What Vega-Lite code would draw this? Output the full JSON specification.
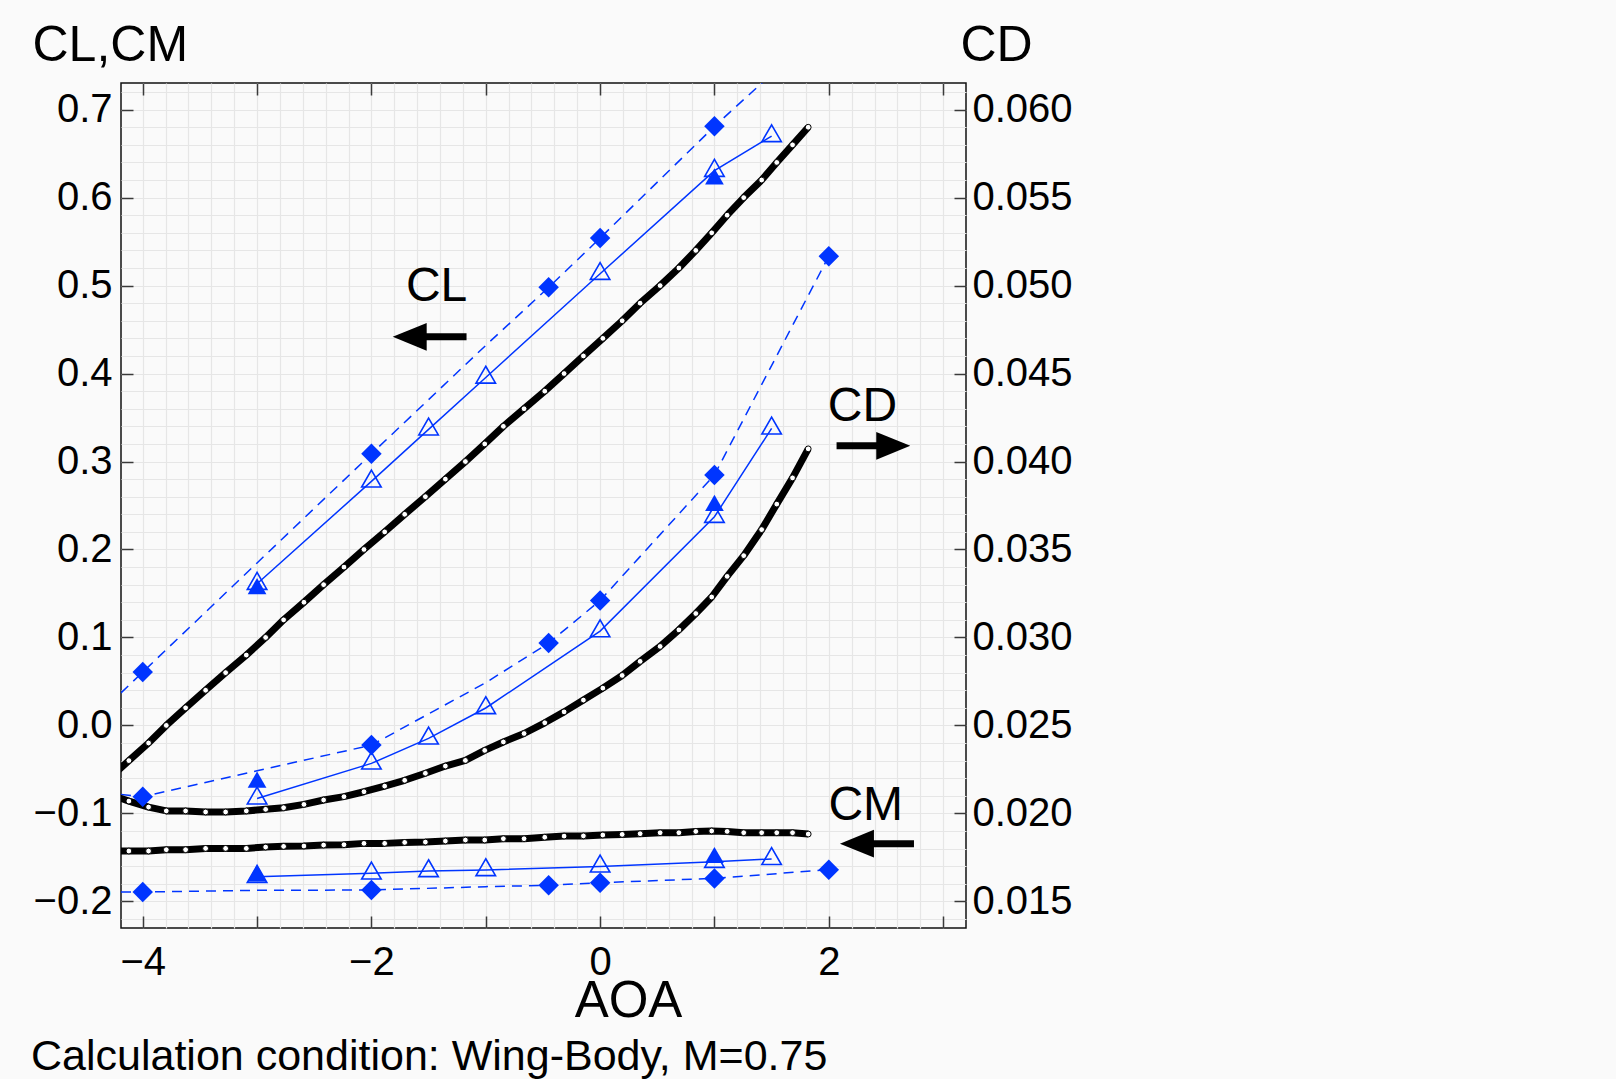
{
  "$schema": "https://vega.github.io/schema/vega-lite/v6.json",
  "width": 845,
  "height": 845,
  "autosize": {"type": "none"},
  "padding": {"left": 121, "top": 83, "right": 650, "bottom": 151},
  "background": "#fafafa",
  "title": {
    "text": "Calculation condition: Wing-Body, M=0.75",
    "orient": "bottom",
    "anchor": "start",
    "frame": "group",
    "dx": -90,
    "offset": 10,
    "fontSize": 43,
    "fontWeight": "normal",
    "font": "Liberation Sans",
    "color": "#000000"
  },
  "config": {
    "view": {"stroke": "#111111", "strokeWidth": 1.5},
    "axis": {
      "domain": false,
      "grid": false,
      "ticks": false,
      "labels": false,
      "tickSize": 0,
      "labelFont": "Liberation Sans",
      "labelFontSize": 40,
      "labelColor": "#000000",
      "labelOverlap": false,
      "labelFlush": false,
      "labelBound": false,
      "titleFont": "Liberation Sans",
      "titleFontSize": 50,
      "titleFontWeight": "normal",
      "titleColor": "#000000",
      "tickColor": "#3a3a3a",
      "tickWidth": 1.5,
      "gridColor": "#e6e6e6",
      "gridWidth": 1.2
    }
  },
  "datasets": {
    "cfd": [
      {"aoa": -4.29, "CL": -0.06, "CD": 0.02107, "CM": -0.1430},
      {"aoa": -4.121, "CL": -0.04, "CD": 0.02070, "CM": -0.1428},
      {"aoa": -3.949, "CL": -0.02, "CD": 0.02036, "CM": -0.1428},
      {"aoa": -3.794, "CL": 0.00, "CD": 0.02014, "CM": -0.1413},
      {"aoa": -3.625, "CL": 0.02, "CD": 0.02014, "CM": -0.1413},
      {"aoa": -3.45, "CL": 0.04, "CD": 0.02008, "CM": -0.1398},
      {"aoa": -3.275, "CL": 0.06, "CD": 0.02008, "CM": -0.1398},
      {"aoa": -3.094, "CL": 0.08, "CD": 0.02014, "CM": -0.1398},
      {"aoa": -2.925, "CL": 0.10, "CD": 0.02023, "CM": -0.1383},
      {"aoa": -2.768, "CL": 0.12, "CD": 0.02032, "CM": -0.1375},
      {"aoa": -2.59, "CL": 0.14, "CD": 0.02051, "CM": -0.1371},
      {"aoa": -2.418, "CL": 0.16, "CD": 0.02076, "CM": -0.1360},
      {"aoa": -2.24, "CL": 0.18, "CD": 0.02095, "CM": -0.1356},
      {"aoa": -2.065, "CL": 0.20, "CD": 0.02123, "CM": -0.1341},
      {"aoa": -1.884, "CL": 0.22, "CD": 0.02155, "CM": -0.1341},
      {"aoa": -1.709, "CL": 0.24, "CD": 0.02188, "CM": -0.1330},
      {"aoa": -1.528, "CL": 0.26, "CD": 0.02228, "CM": -0.1326},
      {"aoa": -1.353, "CL": 0.28, "CD": 0.02269, "CM": -0.1314},
      {"aoa": -1.178, "CL": 0.30, "CD": 0.02301, "CM": -0.1303},
      {"aoa": -1.009, "CL": 0.32, "CD": 0.02358, "CM": -0.1303},
      {"aoa": -0.846, "CL": 0.34, "CD": 0.02406, "CM": -0.1288},
      {"aoa": -0.665, "CL": 0.36, "CD": 0.02454, "CM": -0.1288},
      {"aoa": -0.484, "CL": 0.38, "CD": 0.02515, "CM": -0.1271},
      {"aoa": -0.315, "CL": 0.40, "CD": 0.02577, "CM": -0.1258},
      {"aoa": -0.146, "CL": 0.42, "CD": 0.02644, "CM": -0.1256},
      {"aoa": 0.024, "CL": 0.44, "CD": 0.02712, "CM": -0.1246},
      {"aoa": 0.193, "CL": 0.46, "CD": 0.02784, "CM": -0.1239},
      {"aoa": 0.35, "CL": 0.48, "CD": 0.02864, "CM": -0.1231},
      {"aoa": 0.525, "CL": 0.50, "CD": 0.02949, "CM": -0.1220},
      {"aoa": 0.689, "CL": 0.52, "CD": 0.03043, "CM": -0.1220},
      {"aoa": 0.837, "CL": 0.54, "CD": 0.03136, "CM": -0.1205},
      {"aoa": 0.976, "CL": 0.56, "CD": 0.03230, "CM": -0.1200},
      {"aoa": 1.111, "CL": 0.58, "CD": 0.03347, "CM": -0.1205},
      {"aoa": 1.256, "CL": 0.60, "CD": 0.03465, "CM": -0.1220},
      {"aoa": 1.413, "CL": 0.62, "CD": 0.03613, "CM": -0.1220},
      {"aoa": 1.545, "CL": 0.64, "CD": 0.03758, "CM": -0.1220},
      {"aoa": 1.683, "CL": 0.66, "CD": 0.03907, "CM": -0.1220},
      {"aoa": 1.82, "CL": 0.68, "CD": 0.04072, "CM": -0.1235}
    ],
    "fit": [
      {"aoa": -4.19, "CL": 0.037, "CD": 0.02108, "CM": -0.1894},
      {"aoa": -4, "CL": 0.0606, "CD": 0.02095, "CM": -0.1894},
      {"aoa": -3, "CL": 0.1847, "CD": 0.02242, "CM": -0.1875},
      {"aoa": -2, "CL": 0.3087, "CD": 0.02388, "CM": -0.1871},
      {"aoa": -1, "CL": 0.432, "CD": 0.02743, "CM": -0.1833},
      {"aoa": -0.45, "CL": 0.498, "CD": 0.02968, "CM": -0.1818},
      {"aoa": 0, "CL": 0.554, "CD": 0.0321, "CM": -0.1788},
      {"aoa": 1, "CL": 0.681, "CD": 0.03924, "CM": -0.1739},
      {"aoa": 2, "CL": 0.80, "CD": 0.05167, "CM": -0.164}
    ],
    "diamond": [
      {"aoa": -4, "CL": 0.0606, "CD": 0.02095, "CM": -0.1894},
      {"aoa": -2, "CL": 0.3087, "CD": 0.02388, "CM": -0.1871},
      {"aoa": -0.45, "CL": 0.498, "CD": 0.02968, "CM": -0.1818},
      {"aoa": 0, "CL": 0.554, "CD": 0.0321, "CM": -0.1788},
      {"aoa": 1, "CL": 0.681, "CD": 0.03924, "CM": -0.1739},
      {"aoa": 2, "CL": null, "CD": 0.05167, "CM": -0.164}
    ],
    "open": [
      {"aoa": -3, "CL": 0.1611, "CD": 0.02085, "CM": -0.1720},
      {"aoa": -2, "CL": 0.2774, "CD": 0.02284, "CM": -0.1682},
      {"aoa": -1.5, "CL": 0.3366, "CD": 0.02426, "CM": -0.1655},
      {"aoa": -1, "CL": 0.3955, "CD": 0.02599, "CM": -0.1644},
      {"aoa": 0, "CL": 0.5134, "CD": 0.03036, "CM": -0.1603},
      {"aoa": 1, "CL": 0.6306, "CD": 0.03686, "CM": -0.1550},
      {"aoa": 1.5, "CL": 0.6700, "CD": 0.04188, "CM": -0.1518}
    ],
    "filled": [
      {"aoa": -3, "CL": 0.1553, "CD": 0.02177, "CM": -0.1712},
      {"aoa": 1, "CL": 0.6210, "CD": 0.03749, "CM": -0.1504}
    ],
    "labels": [
      {"label": "CL", "aoa": -1.43, "level": 0.482},
      {"label": "CD", "aoa": 2.294, "level": 0.3458},
      {"label": "CM", "aoa": 2.323, "level": -0.1076}
    ],
    "arrows": [
      {"label": "CL", "direction": "left", "head": -1.665, "tail": -1.168, "level": 0.4417},
      {"label": "CD", "direction": "right", "head": 2.564, "tail": 2.068, "level": 0.3178},
      {"label": "CM", "direction": "left", "head": 2.246, "tail": 2.745, "level": -0.1344}
    ]
  },
  "layer": [
    {
      "layer": [
        {
          "mark": {"type": "rule", "color": "#000000", "strokeWidth": 1.2},
          "encoding": {
            "x": {"datum": 0, "type": "quantitative", "scale": {"domain": [-4.19, 3.2], "nice": false, "zero": false}, "axis": null}
          }
        },
        {
          "mark": {"type": "rule", "color": "#333333", "strokeWidth": 1.8},
          "encoding": {
            "y": {"datum": 0, "type": "quantitative", "scale": {"domain": [-0.2303, 0.7303], "nice": false, "zero": false}, "axis": null}
          }
        },
        {
          "data": {"name": "fit"},
          "mark": {"type": "line", "color": "#0035ff", "strokeWidth": 1.5, "strokeDash": [10, 7], "clip": true},
          "encoding": {
            "x": {"field": "aoa", "type": "quantitative", "scale": {"domain": [-4.19, 3.2], "nice": false, "zero": false}, "axis": null},
            "y": {"field": "CL", "type": "quantitative", "scale": {"domain": [-0.2303, 0.7303], "nice": false, "zero": false}, "axis": null}
          }
        },
        {
          "data": {"name": "fit"},
          "mark": {"type": "line", "color": "#0035ff", "strokeWidth": 1.5, "strokeDash": [10, 7], "clip": true},
          "encoding": {
            "x": {"field": "aoa", "type": "quantitative", "scale": {"domain": [-4.19, 3.2], "nice": false, "zero": false}, "axis": null},
            "y": {"field": "CM", "type": "quantitative", "scale": {"domain": [-0.2303, 0.7303], "nice": false, "zero": false}, "axis": null}
          }
        },
        {
          "data": {"name": "open"},
          "mark": {"type": "line", "color": "#0035ff", "strokeWidth": 1.5, "clip": true},
          "encoding": {
            "x": {"field": "aoa", "type": "quantitative", "scale": {"domain": [-4.19, 3.2], "nice": false, "zero": false}, "axis": null},
            "y": {"field": "CL", "type": "quantitative", "scale": {"domain": [-0.2303, 0.7303], "nice": false, "zero": false}, "axis": null}
          }
        },
        {
          "data": {"name": "open"},
          "mark": {"type": "line", "color": "#0035ff", "strokeWidth": 1.5, "clip": true},
          "encoding": {
            "x": {"field": "aoa", "type": "quantitative", "scale": {"domain": [-4.19, 3.2], "nice": false, "zero": false}, "axis": null},
            "y": {"field": "CM", "type": "quantitative", "scale": {"domain": [-0.2303, 0.7303], "nice": false, "zero": false}, "axis": null}
          }
        },
        {
          "data": {"name": "cfd"},
          "mark": {"type": "line", "color": "#000000", "strokeWidth": 7, "strokeJoin": "round", "clip": true},
          "encoding": {
            "x": {"field": "aoa", "type": "quantitative", "scale": {"domain": [-4.19, 3.2], "nice": false, "zero": false},
              "axis": {"orient": "bottom", "grid": true, "title": null,
                "values": [-4, -3.8, -3.6, -3.4, -3.2, -3, -2.8, -2.6, -2.4, -2.2, -2, -1.8, -1.6, -1.4, -1.2, -1, -0.8, -0.6, -0.4, -0.2, 0, 0.2, 0.4, 0.6, 0.8, 1, 1.2, 1.4, 1.6, 1.8, 2, 2.2, 2.4, 2.6, 2.8, 3]}},
            "y": {"field": "CL", "type": "quantitative", "scale": {"domain": [-0.2303, 0.7303], "nice": false, "zero": false},
              "axis": {"orient": "left", "grid": true, "title": null,
                "values": [-0.22, -0.2, -0.18, -0.16, -0.14, -0.12, -0.1, -0.08, -0.06, -0.04, -0.02, 0, 0.02, 0.04, 0.06, 0.08, 0.1, 0.12, 0.14, 0.16, 0.18, 0.2, 0.22, 0.24, 0.26, 0.28, 0.3, 0.32, 0.34, 0.36, 0.38, 0.4, 0.42, 0.44, 0.46, 0.48, 0.5, 0.52, 0.54, 0.56, 0.58, 0.6, 0.62, 0.64, 0.66, 0.68, 0.7, 0.72]}}
          }
        },
        {
          "data": {"name": "cfd"},
          "mark": {"type": "line", "color": "#000000", "strokeWidth": 7, "strokeJoin": "round", "clip": true},
          "encoding": {
            "x": {"field": "aoa", "type": "quantitative", "scale": {"domain": [-4.19, 3.2], "nice": false, "zero": false},
              "axis": {"orient": "bottom", "ticks": true, "tickSize": -12, "title": null, "values": [-4, -3, -2, -1, 0, 1, 2, 3]}},
            "y": {"field": "CM", "type": "quantitative", "scale": {"domain": [-0.2303, 0.7303], "nice": false, "zero": false},
              "axis": {"orient": "left", "ticks": true, "tickSize": -12, "title": null, "values": [-0.2, -0.1, 0, 0.1, 0.2, 0.3, 0.4, 0.5, 0.6, 0.7]}}
          }
        },
        {
          "data": {"name": "cfd"},
          "mark": {"type": "point", "shape": "circle", "filled": true, "fill": "#ffffff", "stroke": "#000000", "strokeWidth": 1, "size": 34, "opacity": 1, "clip": true},
          "encoding": {
            "x": {"field": "aoa", "type": "quantitative", "scale": {"domain": [-4.19, 3.2], "nice": false, "zero": false},
              "axis": {"orient": "top", "ticks": true, "tickSize": -12, "title": null, "values": [-4, -3, -2, -1, 0, 1, 2, 3]}},
            "y": {"field": "CL", "type": "quantitative", "scale": {"domain": [-0.2303, 0.7303], "nice": false, "zero": false},
              "axis": {"orient": "left", "labels": true, "format": ".1f", "labelPadding": 9, "values": [-0.2, -0.1, 0, 0.1, 0.2, 0.3, 0.4, 0.5, 0.6, 0.7],
                "title": "CL,CM", "titleAngle": 0, "titleX": -89, "titleY": -23, "titleAlign": "left", "titleBaseline": "alphabetic"}}
          }
        },
        {
          "data": {"name": "cfd"},
          "mark": {"type": "point", "shape": "circle", "filled": true, "fill": "#ffffff", "stroke": "#000000", "strokeWidth": 1, "size": 34, "opacity": 1, "clip": true},
          "encoding": {
            "x": {"field": "aoa", "type": "quantitative", "scale": {"domain": [-4.19, 3.2], "nice": false, "zero": false},
              "axis": {"orient": "bottom", "labels": true, "format": "d", "labelPadding": 14, "values": [-4, -2, 0, 2],
                "title": "AOA", "titleAngle": 0, "titleX": 507, "titleY": 88, "titleAlign": "center", "titleBaseline": "alphabetic", "titleFontSize": 51}},
            "y": {"field": "CM", "type": "quantitative", "scale": {"domain": [-0.2303, 0.7303], "nice": false, "zero": false}, "axis": null}
          }
        },
        {
          "data": {"name": "diamond"},
          "mark": {"type": "point", "shape": "diamond", "filled": true, "color": "#0035ff", "size": 420, "opacity": 1, "clip": true},
          "encoding": {
            "x": {"field": "aoa", "type": "quantitative", "scale": {"domain": [-4.19, 3.2], "nice": false, "zero": false}, "axis": null},
            "y": {"field": "CL", "type": "quantitative", "scale": {"domain": [-0.2303, 0.7303], "nice": false, "zero": false}, "axis": null}
          }
        },
        {
          "data": {"name": "diamond"},
          "mark": {"type": "point", "shape": "diamond", "filled": true, "color": "#0035ff", "size": 420, "opacity": 1, "clip": true},
          "encoding": {
            "x": {"field": "aoa", "type": "quantitative", "scale": {"domain": [-4.19, 3.2], "nice": false, "zero": false}, "axis": null},
            "y": {"field": "CM", "type": "quantitative", "scale": {"domain": [-0.2303, 0.7303], "nice": false, "zero": false}, "axis": null}
          }
        },
        {
          "data": {"name": "filled"},
          "mark": {"type": "point", "shape": "M0,-1.155L1,0.577L-1,0.577Z", "filled": true, "color": "#0035ff", "size": 350, "opacity": 1},
          "encoding": {
            "x": {"field": "aoa", "type": "quantitative", "scale": {"domain": [-4.19, 3.2], "nice": false, "zero": false}, "axis": null},
            "y": {"field": "CL", "type": "quantitative", "scale": {"domain": [-0.2303, 0.7303], "nice": false, "zero": false}, "axis": null}
          }
        },
        {
          "data": {"name": "filled"},
          "mark": {"type": "point", "shape": "M0,-1.155L1,0.577L-1,0.577Z", "filled": true, "color": "#0035ff", "size": 350, "opacity": 1},
          "encoding": {
            "x": {"field": "aoa", "type": "quantitative", "scale": {"domain": [-4.19, 3.2], "nice": false, "zero": false}, "axis": null},
            "y": {"field": "CM", "type": "quantitative", "scale": {"domain": [-0.2303, 0.7303], "nice": false, "zero": false}, "axis": null}
          }
        },
        {
          "data": {"name": "open"},
          "mark": {"type": "point", "shape": "M0,-1.155L1,0.577L-1,0.577Z", "filled": false, "color": "#0035ff", "strokeWidth": 1.6, "size": 380, "opacity": 1},
          "encoding": {
            "x": {"field": "aoa", "type": "quantitative", "scale": {"domain": [-4.19, 3.2], "nice": false, "zero": false}, "axis": null},
            "y": {"field": "CL", "type": "quantitative", "scale": {"domain": [-0.2303, 0.7303], "nice": false, "zero": false}, "axis": null}
          }
        },
        {
          "data": {"name": "open"},
          "mark": {"type": "point", "shape": "M0,-1.155L1,0.577L-1,0.577Z", "filled": false, "color": "#0035ff", "strokeWidth": 1.6, "size": 380, "opacity": 1},
          "encoding": {
            "x": {"field": "aoa", "type": "quantitative", "scale": {"domain": [-4.19, 3.2], "nice": false, "zero": false}, "axis": null},
            "y": {"field": "CM", "type": "quantitative", "scale": {"domain": [-0.2303, 0.7303], "nice": false, "zero": false}, "axis": null}
          }
        },
        {
          "data": {"name": "arrows"},
          "mark": {"type": "rule", "color": "#000000", "strokeWidth": 7},
          "encoding": {
            "x": {"field": "head", "type": "quantitative", "scale": {"domain": [-4.19, 3.2], "nice": false, "zero": false}, "axis": null},
            "x2": {"field": "tail"},
            "y": {"field": "level", "type": "quantitative", "scale": {"domain": [-0.2303, 0.7303], "nice": false, "zero": false}, "axis": null}
          }
        },
        {
          "data": {"name": "arrows"},
          "mark": {"type": "point", "filled": true, "color": "#000000", "size": 1156, "opacity": 1},
          "encoding": {
            "x": {"field": "head", "type": "quantitative", "scale": {"domain": [-4.19, 3.2], "nice": false, "zero": false}, "axis": null},
            "y": {"field": "level", "type": "quantitative", "scale": {"domain": [-0.2303, 0.7303], "nice": false, "zero": false}, "axis": null},
            "shape": {"field": "direction", "type": "nominal", "legend": null,
              "scale": {"domain": ["left", "right"], "range": ["M-1,0L1,-0.82L1,0.82Z", "M1,0L-1,-0.82L-1,0.82Z"]}}
          }
        },
        {
          "data": {"name": "labels"},
          "mark": {"type": "text", "font": "Liberation Sans", "fontSize": 48, "align": "center", "baseline": "alphabetic", "color": "#000000"},
          "encoding": {
            "x": {"field": "aoa", "type": "quantitative", "scale": {"domain": [-4.19, 3.2], "nice": false, "zero": false}, "axis": null},
            "y": {"field": "level", "type": "quantitative", "scale": {"domain": [-0.2303, 0.7303], "nice": false, "zero": false}, "axis": null},
            "text": {"field": "label"}
          }
        }
      ],
      "resolve": {"axis": {"x": "independent", "y": "independent"}}
    },
    {
      "layer": [
        {
          "data": {"name": "fit"},
          "mark": {"type": "line", "color": "#0035ff", "strokeWidth": 1.5, "strokeDash": [10, 7], "clip": true},
          "encoding": {
            "x": {"field": "aoa", "type": "quantitative", "scale": {"domain": [-4.19, 3.2], "nice": false, "zero": false}, "axis": null},
            "y": {"field": "CD", "type": "quantitative", "scale": {"domain": [0.013485, 0.061515], "nice": false, "zero": false},
              "axis": {"orient": "right", "ticks": true, "tickSize": -12, "title": null, "values": [0.015, 0.02, 0.025, 0.03, 0.035, 0.04, 0.045, 0.05, 0.055, 0.06]}}
          }
        },
        {
          "data": {"name": "open"},
          "mark": {"type": "line", "color": "#0035ff", "strokeWidth": 1.5, "clip": true},
          "encoding": {
            "x": {"field": "aoa", "type": "quantitative", "scale": {"domain": [-4.19, 3.2], "nice": false, "zero": false}, "axis": null},
            "y": {"field": "CD", "type": "quantitative", "scale": {"domain": [0.013485, 0.061515], "nice": false, "zero": false},
              "axis": {"orient": "right", "labels": true, "format": ".3f", "labelPadding": 6, "values": [0.015, 0.02, 0.025, 0.03, 0.035, 0.04, 0.045, 0.05, 0.055, 0.06],
                "title": "CD", "titleAngle": 0, "titleX": -6, "titleY": -23, "titleAlign": "left", "titleBaseline": "alphabetic"}}
          }
        },
        {
          "data": {"name": "cfd"},
          "mark": {"type": "line", "color": "#000000", "strokeWidth": 7, "strokeJoin": "round", "clip": true},
          "encoding": {
            "x": {"field": "aoa", "type": "quantitative", "scale": {"domain": [-4.19, 3.2], "nice": false, "zero": false}, "axis": null},
            "y": {"field": "CD", "type": "quantitative", "scale": {"domain": [0.013485, 0.061515], "nice": false, "zero": false}, "axis": null}
          }
        },
        {
          "data": {"name": "cfd"},
          "mark": {"type": "point", "shape": "circle", "filled": true, "fill": "#ffffff", "stroke": "#000000", "strokeWidth": 1, "size": 34, "opacity": 1, "clip": true},
          "encoding": {
            "x": {"field": "aoa", "type": "quantitative", "scale": {"domain": [-4.19, 3.2], "nice": false, "zero": false}, "axis": null},
            "y": {"field": "CD", "type": "quantitative", "scale": {"domain": [0.013485, 0.061515], "nice": false, "zero": false}, "axis": null}
          }
        },
        {
          "data": {"name": "diamond"},
          "mark": {"type": "point", "shape": "diamond", "filled": true, "color": "#0035ff", "size": 420, "opacity": 1, "clip": true},
          "encoding": {
            "x": {"field": "aoa", "type": "quantitative", "scale": {"domain": [-4.19, 3.2], "nice": false, "zero": false}, "axis": null},
            "y": {"field": "CD", "type": "quantitative", "scale": {"domain": [0.013485, 0.061515], "nice": false, "zero": false}, "axis": null}
          }
        },
        {
          "data": {"name": "filled"},
          "mark": {"type": "point", "shape": "M0,-1.155L1,0.577L-1,0.577Z", "filled": true, "color": "#0035ff", "size": 350, "opacity": 1},
          "encoding": {
            "x": {"field": "aoa", "type": "quantitative", "scale": {"domain": [-4.19, 3.2], "nice": false, "zero": false}, "axis": null},
            "y": {"field": "CD", "type": "quantitative", "scale": {"domain": [0.013485, 0.061515], "nice": false, "zero": false}, "axis": null}
          }
        },
        {
          "data": {"name": "open"},
          "mark": {"type": "point", "shape": "M0,-1.155L1,0.577L-1,0.577Z", "filled": false, "color": "#0035ff", "strokeWidth": 1.6, "size": 380, "opacity": 1},
          "encoding": {
            "x": {"field": "aoa", "type": "quantitative", "scale": {"domain": [-4.19, 3.2], "nice": false, "zero": false}, "axis": null},
            "y": {"field": "CD", "type": "quantitative", "scale": {"domain": [0.013485, 0.061515], "nice": false, "zero": false}, "axis": null}
          }
        }
      ],
      "resolve": {"axis": {"y": "independent"}}
    }
  ],
  "resolve": {"scale": {"y": "independent"}, "axis": {"x": "independent", "y": "independent"}}
}
